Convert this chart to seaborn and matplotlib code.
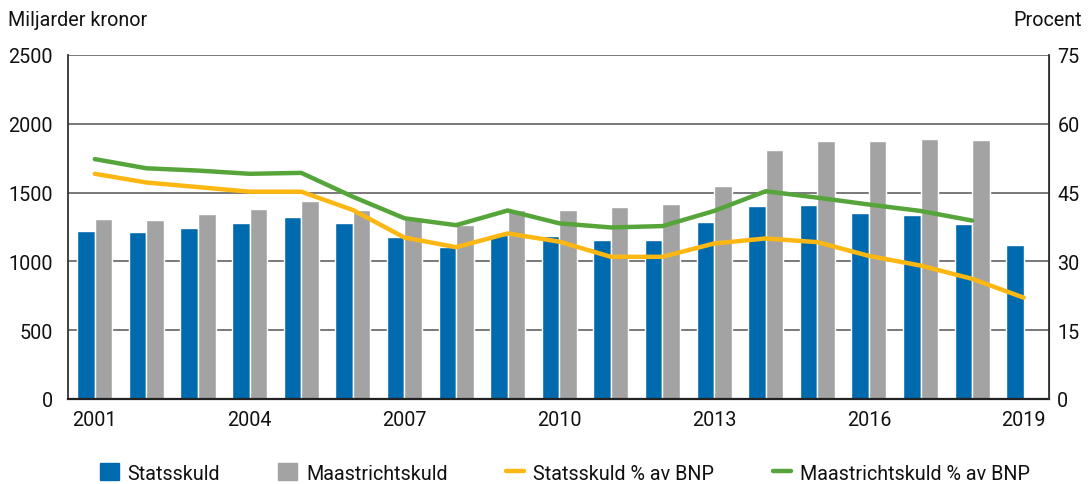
import numpy as np
import pandas as pd
import matplotlib
matplotlib.use('Agg')
import matplotlib.pyplot as plt
from matplotlib.patches import Patch
from matplotlib.lines import Line2D
import seaborn as sns

# data
years = [str(y) for y in range(2001, 2020)]
statsskuld = [1221, 1211, 1240, 1277, 1320, 1277, 1175, 1107, 1192, 1182,
              1153, 1153, 1284, 1400, 1408, 1350, 1335, 1270, 1117]
maastricht = [1306, 1299, 1342, 1379, 1437, 1371, 1310, 1265, 1371, 1371,
              1393, 1415, 1546, 1807, 1873, 1873, 1887, 1880, np.nan]
stats_pct = [49.1, 47.2, 46.2, 45.2, 45.2, 41.2, 35.2, 33.1, 36.1, 34.3,
             31.0, 31.0, 33.9, 35.0, 34.2, 31.2, 29.1, 26.2, 22.1]
maas_pct = [52.3, 50.3, 49.8, 49.1, 49.3, 44.1, 39.4, 37.9, 41.1, 38.3,
            37.4, 37.7, 41.0, 45.3, 43.9, 42.4, 41.0, 38.9, np.nan]
xtick_years = ['2001', '2004', '2007', '2010', '2013', '2016', '2019']

blue = '#006AAE'
grey = '#A3A3A3'
yellow = '#FDB713'
green = '#55A53A'

sns.set_style('white')
plt.rcParams['font.family'] = ['Roboto', 'DejaVu Sans']
fs = 14.2

bars = pd.DataFrame({
    'year': years * 2,
    'value': statsskuld + maastricht,
    'serie': ['Statsskuld'] * len(years) + ['Maastrichtskuld'] * len(years),
})

fig = plt.figure(figsize=(10.89, 4.85), dpi=100)
ax = fig.add_axes([68 / 1089, 1 - 400 / 485, (1049 - 68) / 1089, (400 - 56) / 485])

sns.barplot(data=bars, x='year', y='value', hue='serie', order=years,
            hue_order=['Statsskuld', 'Maastrichtskuld'],
            palette=[blue, grey], width=0.68, saturation=1, ax=ax,
            legend=False)
ax.set_xlim(-0.52, 18.49)
ax.set_ylim(0, 2500)
ax.set_yticks(range(0, 2501, 500))
ax.set_xticks([years.index(y) for y in xtick_years])
ax.set_xticklabels(xtick_years)
ax.set_xlabel('')
ax.set_ylabel('')
ax.grid(axis='y', color='#6E6E6E', linewidth=1.3)
ax.set_axisbelow(True)
ax.tick_params(axis='y', length=0, pad=11, labelsize=fs, colors='#111111')
ax.tick_params(axis='x', length=0, pad=8, labelsize=fs, colors='#111111')
ax.spines['top'].set_visible(False)
ax.spines['left'].set_color('#333333')
ax.spines['bottom'].set_color('#222222')
ax.spines['bottom'].set_linewidth(1.6)
ax.spines['left'].set_linewidth(1.3)

# procent-axeln till höger
ax2 = ax.twinx()
xpos = np.arange(len(years))
lines = pd.DataFrame({'x': xpos, 'stats': stats_pct, 'maas': maas_pct})
sns.lineplot(data=lines, x='x', y='maas', color=green, linewidth=3.2, ax=ax2)
sns.lineplot(data=lines, x='x', y='stats', color=yellow, linewidth=3.2, ax=ax2)
ax2.set_ylim(0, 75)
ax2.set_yticks(range(0, 76, 15))
ax2.set_xlim(-0.52, 18.49)
ax2.set_xlabel('')
ax2.set_ylabel('')
ax2.tick_params(axis='y', length=0, pad=6, labelsize=fs, colors='#111111')
ax2.spines['top'].set_visible(False)
ax2.spines['left'].set_visible(False)
ax2.spines['bottom'].set_visible(False)
ax2.spines['right'].set_color('#333333')
ax2.spines['right'].set_linewidth(1.3)

fig.text(8 / 1089, 1 - 21 / 485, 'Miljarder kronor', fontsize=fs,
         ha='left', va='center', color='#111111')
fig.text(1082 / 1089, 1 - 21 / 485, 'Procent', fontsize=fs,
         ha='right', va='center', color='#111111')

handles = [Patch(color=blue), Patch(color=grey),
           Line2D([], [], color=yellow, linewidth=3.2),
           Line2D([], [], color=green, linewidth=3.2)]
labels = ['Statsskuld', 'Maastrichtskuld', 'Statsskuld % av BNP',
          'Maastrichtskuld % av BNP']
fig.legend(handles, labels, loc='center', bbox_to_anchor=(565 / 1089, 1 - 474 / 485),
           ncol=4, frameon=False, fontsize=fs, handlelength=0.95, handleheight=0.95,
           handletextpad=0.45, columnspacing=2.95, labelcolor='#111111')

fig.savefig('out.png', dpi=100)
